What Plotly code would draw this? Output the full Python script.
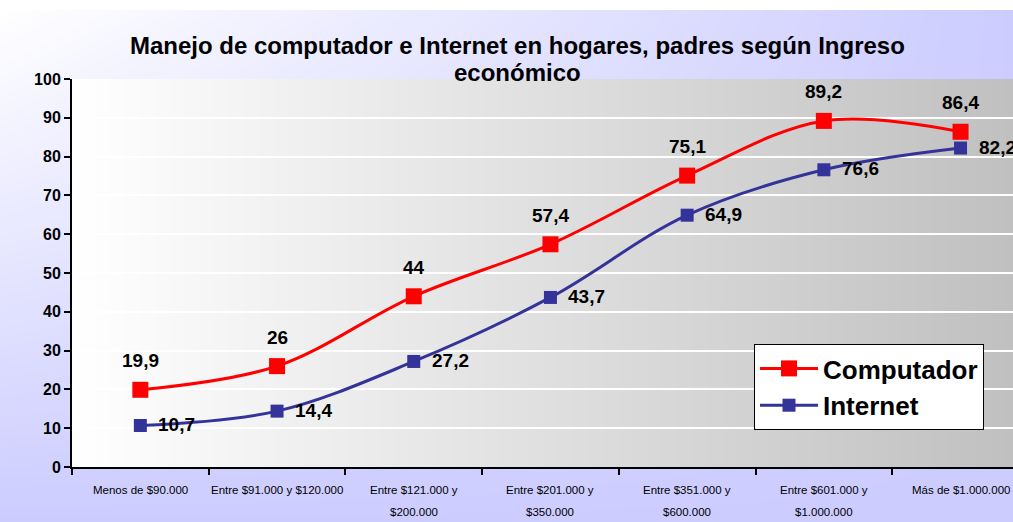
import plotly.graph_objects as go

# datos del grafico
categorias = ["Menos de $90.000", "Entre $91.000 y $120.000", "Entre $121.000 y $200.000",
              "Entre $201.000 y $350.000", "Entre $351.000 y $600.000",
              "Entre $601.000 y $1.000.000", "Más de $1.000.000"]
etiquetas_x = ["Menos de $90.000", "Entre $91.000 y $120.000", "Entre $121.000 y<br>$200.000",
               "Entre $201.000 y<br>$350.000", "Entre $351.000 y<br>$600.000",
               "Entre $601.000 y<br>$1.000.000", "Más de $1.000.000"]
computador = [19.9, 26, 44, 57.4, 75.1, 89.2, 86.4]
internet = [10.7, 14.4, 27.2, 43.7, 64.9, 76.6, 82.2]
y_ticks = [0, 10, 20, 30, 40, 50, 60, 70, 80, 90, 100]

W, H = 1013, 522
FONT = "Liberation Sans, Arial, sans-serif"
ROJO = "#ff0000"
AZUL = "#333399"

# posicion del area de grafico (pixeles)
left, top, bottom = 72, 79, 467
dom_x = [left / W, 1]
dom_y = [(H - bottom) / H, (H - top) / H]


def fmt(v):
    # coma decimal como en el original
    return f"{v:g}".replace(".", ",")


fig = go.Figure()

# fondo exterior: degradado blanco -> lavanda
fig.add_trace(go.Heatmap(z=[[1, 1], [0, 1]], x=[0, 1], y=[0, 1], zsmooth="best",
                         colorscale=[[0, "#ffffff"], [1, "#ccccff"]], showscale=False,
                         hoverinfo="skip", xaxis="x", yaxis="y"))
# fondo del area de grafico: degradado blanco -> gris
fig.add_trace(go.Heatmap(z=[[0, 1], [0, 1]], x=[0, 1], y=[0, 1], zsmooth="best",
                         colorscale=[[0, "#ffffff"], [1, "#c0c0c0"]], showscale=False,
                         hoverinfo="skip", xaxis="x2", yaxis="y2"))

fig.add_trace(go.Scatter(x=categorias, y=computador, name="Computador", mode="lines+markers",
                         line=dict(color=ROJO, width=3, shape="spline"),
                         marker=dict(symbol="square", size=16, color=ROJO),
                         xaxis="x3", yaxis="y3"))
fig.add_trace(go.Scatter(x=categorias, y=internet, name="Internet", mode="lines+markers",
                         line=dict(color=AZUL, width=3, shape="spline"),
                         marker=dict(symbol="square", size=13, color=AZUL),
                         xaxis="x3", yaxis="y3"))

annotations = []
# etiquetas de datos
for c, v in zip(categorias, computador):
    annotations.append(dict(x=c, y=v, xref="x3", yref="y3", text=fmt(v), showarrow=False,
                            yshift=29, font=dict(family=FONT, size=19, color="black", weight="bold")))
for c, v in zip(categorias, internet):
    annotations.append(dict(x=c, y=v, xref="x3", yref="y3", text=fmt(v), showarrow=False,
                            xanchor="left", xshift=16, yshift=1,
                            font=dict(family=FONT, size=19, color="black", weight="bold")))
# etiquetas del eje x (dos lineas separadas)
for c, lab in zip(categorias, etiquetas_x):
    for i, linea in enumerate(lab.split("<br>")):
        annotations.append(dict(x=c, y=(H - 490 - 22 * i) / H, xref="x3", yref="paper",
                                text=linea, showarrow=False, yanchor="middle",
                                font=dict(family=FONT, size=11.5, color="black")))
# titulo en dos lineas
titulo = ["Manejo de computador e Internet en hogares, padres según Ingreso", "económico"]
for i, linea in enumerate(titulo):
    annotations.append(dict(x=517 / W, y=1 - (45 + 28 * i) / H, xref="paper", yref="paper",
                            text=linea, showarrow=False, yanchor="middle",
                            font=dict(family=FONT, size=24, color="black", weight="bold")))

oculto = dict(range=[0, 1], visible=False, fixedrange=True, automargin=False)

fig.update_layout(
    width=W, height=H,
    margin=dict(l=0, r=0, t=0, b=0, autoexpand=False),
    paper_bgcolor="white",
    plot_bgcolor="rgba(0,0,0,0)",
    xaxis=dict(domain=[0, 1], **oculto),
    yaxis=dict(domain=[0, (H - 10) / H], **oculto),
    xaxis2=dict(domain=dom_x, anchor="y2", **oculto),
    yaxis2=dict(domain=dom_y, anchor="x2", **oculto),
    xaxis3=dict(domain=dom_x, anchor="y3", type="category", categoryarray=categorias,
                range=[-0.5, (W - left) / 136.7 - 0.5], tickson="boundaries",
                ticks="outside", ticklen=6, tickwidth=1.5, tickcolor="black",
                showline=True, linecolor="black", linewidth=2, showgrid=False,
                showticklabels=False, fixedrange=True, automargin=False),
    yaxis3=dict(domain=dom_y, anchor="x3", range=[0, 100], tickvals=y_ticks,
                ticks="outside", ticklen=6, tickwidth=1.5, tickcolor="black",
                showline=True, linecolor="black", linewidth=2,
                showgrid=True, gridcolor="white", gridwidth=2, zeroline=False,
                tickfont=dict(family=FONT, size=16, color="black", weight="bold"),
                fixedrange=True, automargin=False),
    legend=dict(x=754 / W, y=1 - 344 / H, xanchor="left", yanchor="top",
                bgcolor="white", bordercolor="black", borderwidth=1,
                itemwidth=58, font=dict(family=FONT, size=26, color="black", weight="bold")),
    annotations=annotations,
)

# sin margenes en la pagina para que la figura ocupe toda la ventana
css = ("var s=document.createElement('style');"
       "s.textContent='html,body{margin:0;padding:0;overflow:hidden}';"
       "document.head.appendChild(s);")
fig.write_html("out.html", config={"displayModeBar": False}, post_script=css)
